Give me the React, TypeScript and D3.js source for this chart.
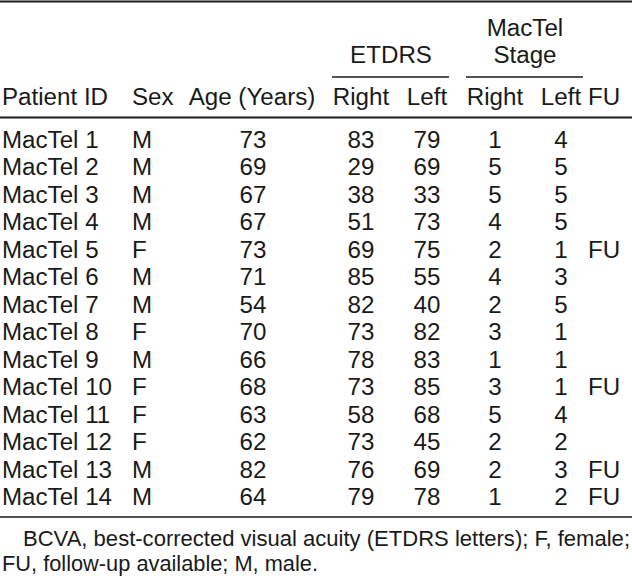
import React from "react";
import * as d3 from "d3";

// table data
const patientIds = ["MacTel 1", "MacTel 2", "MacTel 3", "MacTel 4", "MacTel 5", "MacTel 6", "MacTel 7", "MacTel 8", "MacTel 9", "MacTel 10", "MacTel 11", "MacTel 12", "MacTel 13", "MacTel 14"];
const sex = ["M", "M", "M", "M", "F", "M", "M", "F", "M", "F", "F", "F", "M", "M"];
const age = [73, 69, 67, 67, 73, 71, 54, 70, 66, 68, 63, 62, 82, 64];
const etdrsRight = [83, 29, 38, 51, 69, 85, 82, 73, 78, 73, 58, 73, 76, 79];
const etdrsLeft = [79, 69, 33, 73, 75, 55, 40, 82, 83, 85, 68, 45, 69, 78];
const stageRight = [1, 5, 5, 4, 2, 4, 2, 3, 1, 3, 5, 2, 2, 1];
const stageLeft = [4, 5, 5, 5, 1, 3, 5, 1, 1, 1, 4, 2, 3, 2];
const followUp = ["", "", "", "", "FU", "", "", "", "", "FU", "", "", "FU", "FU"];
const footnote = [
  "BCVA, best-corrected visual acuity (ETDRS letters); F, female;",
  "FU, follow-up available; M, male.",
];

const W = 632;
const H = 578;
const FONT = "'Liberation Sans', Arial, Helvetica, sans-serif";
const INK = "#1a1a1a";

const T = ({ x, y, anchor = "start", size = 23, children }: any) => (
  <text
    transform={`translate(${x},${y}) scale(1.05,1)`}
    textAnchor={anchor}
    fontSize={size}
    fontFamily={FONT}
    fill={INK}
  >
    {children}
  </text>
);

export default function App() {
  //row positions
  const y = d3.scalePoint<string>().domain(patientIds).range([148, 505]);

  const cols = [
    { key: "id", x: 2, anchor: "start", vals: patientIds },
    { key: "sex", x: 132, anchor: "start", vals: sex },
    { key: "age", x: 253, anchor: "middle", vals: age },
    { key: "er", x: 361, anchor: "middle", vals: etdrsRight },
    { key: "el", x: 427, anchor: "middle", vals: etdrsLeft },
    { key: "sr", x: 495, anchor: "middle", vals: stageRight },
    { key: "sl", x: 561, anchor: "middle", vals: stageLeft },
    { key: "fu", x: 588, anchor: "start", vals: followUp },
  ];

  return (
    <svg width={W} height={H} style={{ position: "absolute", left: 0, top: 0, background: "#fff" }}>
      <line x1={0} x2={W} y1={1.5} y2={1.5} stroke={INK} strokeWidth={2} />
      {/* grouped headers */}
      <T x={525} y={36} anchor="middle">MacTel</T>
      <T x={525} y={63} anchor="middle">Stage</T>
      <T x={391} y={63} anchor="middle">ETDRS</T>
      <line x1={332} x2={449} y1={77} y2={77} stroke={INK} strokeWidth={1.5} />
      <line x1={466} x2={583} y1={77} y2={77} stroke={INK} strokeWidth={1.5} />
      {/* column headers */}
      <T x={2} y={105}>Patient ID</T>
      <T x={132} y={105}>Sex</T>
      <T x={252} y={105} anchor="middle">Age (Years)</T>
      <T x={361} y={105} anchor="middle">Right</T>
      <T x={427} y={105} anchor="middle">Left</T>
      <T x={495} y={105} anchor="middle">Right</T>
      <T x={561} y={105} anchor="middle">Left</T>
      <T x={588} y={105}>FU</T>
      <line x1={0} x2={W} y1={117.5} y2={117.5} stroke={INK} strokeWidth={2} />
      {/* body */}
      {cols.map((c) =>
        patientIds.map((id, i) => (
          <T key={c.key + i} x={c.x} y={y(id)} anchor={c.anchor}>
            {String(c.vals[i])}
          </T>
        ))
      )}
      <line x1={0} x2={W} y1={517} y2={517} stroke={INK} strokeWidth={1.5} />
      {/* footnote */}
      <text x={23} y={546} fontSize={22} fontFamily={FONT} fill={INK} textLength={607} lengthAdjust="spacingAndGlyphs">
        {footnote[0]}
      </text>
      <text x={2} y={571} fontSize={22} fontFamily={FONT} fill={INK} textLength={316} lengthAdjust="spacingAndGlyphs">
        {footnote[1]}
      </text>
    </svg>
  );
}
